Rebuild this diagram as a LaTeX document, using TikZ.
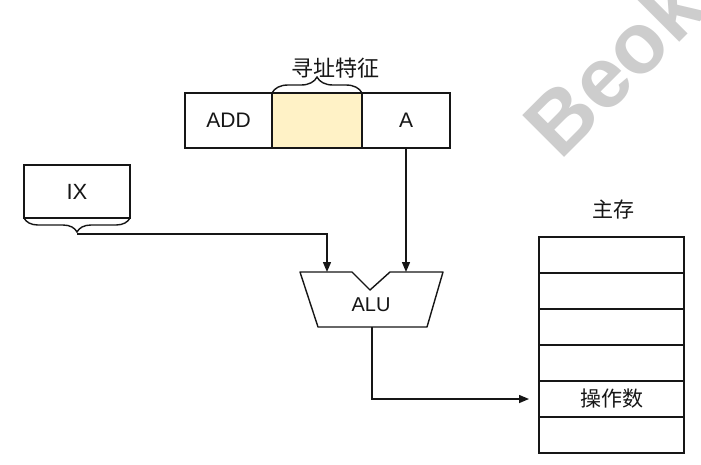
\documentclass[tikz,border=0pt]{standalone}
\usepackage{fontspec}
\setmainfont{Liberation Sans}
\newfontfamily\cjk{Noto Sans CJK SC}
\usetikzlibrary{arrows.meta,decorations.pathreplacing}
\definecolor{lineC}{RGB}{22,22,22}
\definecolor{hl}{RGB}{255,242,198}
\definecolor{wmC}{RGB}{205,205,205}
\begin{document}
\begin{tikzpicture}[x=1pt,y=-1pt,
  cell/.style={draw=lineC,line width=1.4pt,minimum width=#1,minimum height=55pt,inner sep=0pt,outer sep=0pt,text=lineC,font=\fontsize{21}{21}\selectfont},
  memrow/.style={draw=lineC,line width=1.4pt,minimum width=145pt,minimum height=36pt,inner sep=0pt,outer sep=0pt,text=lineC,font=\cjk\fontsize{21}{21}\selectfont},
  lbl/.style={font=\fontsize{20}{20}\selectfont,text=lineC},
  cjklbl/.style={font=\cjk\fontsize{21}{21}\selectfont,text=lineC},
  conn/.style={draw=lineC,line width=1.4pt,-{Triangle[length=10pt,width=8pt]}},
  alushape/.style={draw=lineC,line width=1.4pt,line join=round},
  bracestyle/.style={draw=lineC,line width=1.4pt,decorate,decoration={brace,amplitude=#1}}
]
\useasboundingbox (0,0) rectangle (701,464);
\fill[white] (0,0) rectangle (701,464);
% watermark
\begin{scope}
\clip (0,0) rectangle (701,464);
\node[rotate=45,anchor=base west,inner sep=0pt,text=wmC,font=\bfseries\fontsize{86}{86}\selectfont] (wm) at (560,162) {Beok};
\end{scope}
% instruction register
\node[cell=87pt] (add) at (228.5,120.5) {ADD};
\node[cell=90pt,fill=hl] (mid) at (317,120.5) {};
\node[cell=88pt] (aa) at (406,120.5) {A};
\draw[bracestyle=16pt] (mid.north west) -- (mid.north east);
\node[cjklbl,font=\cjk\fontsize{22}{22}\selectfont] (tag) at (335,68) {寻址特征};
% IX register
\node[cell=106pt,minimum height=53pt,font=\fontsize{22}{22}\selectfont] (ix) at (77,191.5) {IX};
\draw[bracestyle=14pt,decoration={mirror}] (ix.south west) -- (ix.south east);
\coordinate (ixtip) at (77,234);
% ALU
\draw[alushape] (300,272) -- (352,272) -- (370,290) -- (390,272) -- (443,272) -- (427,327) -- (318,327) -- cycle;
\node[lbl] (alu) at (371,305) {ALU};
\coordinate (in1) at (327,272);
\coordinate (in2) at (406,272);
\coordinate (out) at (372,327);
% memory
\node[cjklbl] (memlbl) at (613,210) {主存};
\node[memrow] (r1) at (611.5,255) {};
\node[memrow] (r2) at (611.5,291) {};
\node[memrow] (r3) at (611.5,327) {};
\node[memrow] (r4) at (611.5,363) {};
\node[memrow] (r5) at (611.5,399) {操作数};
\node[memrow] (r6) at (611.5,435) {};
% connectors
\draw[conn] (aa.south) -- (in2);
\draw[conn] (ixtip) -| (in1);
\draw[conn,shorten >=10pt] (out) |- (r5.west);
\end{tikzpicture}
\end{document}
